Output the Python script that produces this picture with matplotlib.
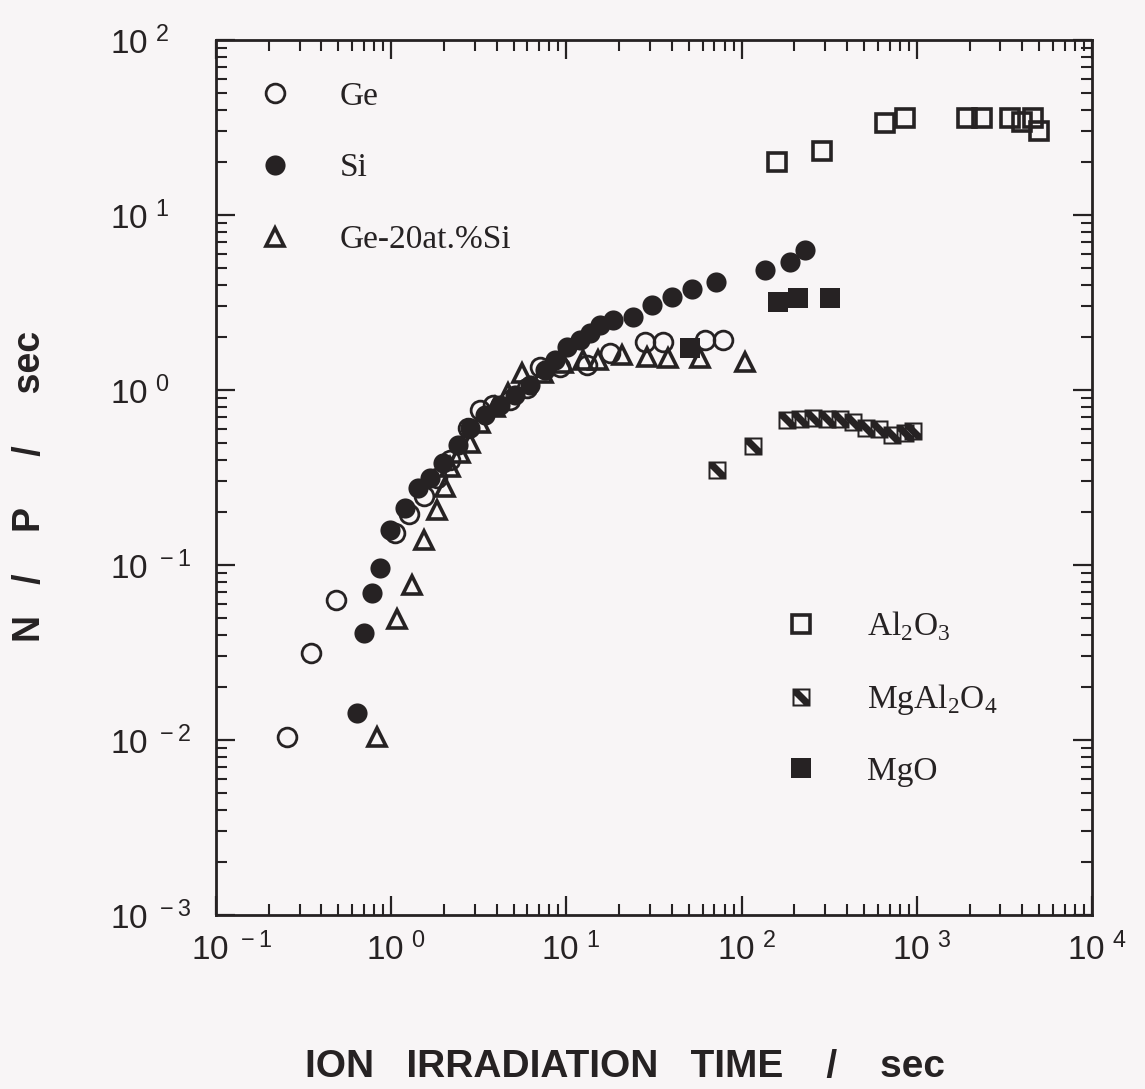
import math
import matplotlib
matplotlib.use("Agg")
import matplotlib.pyplot as plt
from matplotlib.path import Path
from matplotlib.lines import Line2D
from matplotlib.ticker import LogLocator, FuncFormatter, NullFormatter
from matplotlib.transforms import ScaledTranslation

plt.rcParams['mathtext.fontset'] = 'custom'
plt.rcParams['mathtext.rm'] = 'Liberation Serif'
plt.rcParams['mathtext.sf'] = 'Liberation Sans'

INK = '#262223'
BG = '#f8f5f6'

# --- data (time in sec, N/P in 1/sec) ---
ge_x = [0.254, 0.348, 0.484, 1.05, 1.27, 1.54, 1.82, 2.17, 2.74, 3.21, 3.81,
        4.77, 5.96, 7.07, 9.19, 13.1, 17.8, 28.1, 35.6, 61.8, 78.3]
ge_y = [0.0104, 0.0314, 0.063, 0.152, 0.196, 0.248, 0.314, 0.398, 0.607, 0.769,
        0.82, 0.877, 1.03, 1.35, 1.35, 1.39, 1.63, 1.88, 1.88, 1.93, 1.93]

si_x = [0.638, 0.70, 0.776, 0.863, 0.984, 1.20, 1.42, 1.66, 1.98, 2.41, 2.82,
        3.43, 4.18, 5.09, 6.20, 7.55, 8.61, 10.1, 12.0, 13.6, 15.6, 18.5, 24.0,
        30.8, 40.1, 52.1, 71.5, 136, 189, 230]
si_y = [0.0143, 0.041, 0.069, 0.096, 0.158, 0.212, 0.275, 0.314, 0.383, 0.485,
        0.607, 0.72, 0.82, 0.936, 1.07, 1.30, 1.48, 1.76, 1.93, 2.12, 2.35, 2.51,
        2.61, 3.06, 3.40, 3.78, 4.14, 4.85, 5.39, 6.31]

gesi_x = [0.83, 1.08, 1.32, 1.54, 1.82, 2.03, 2.17, 2.47, 2.82, 3.21, 3.91, 4.64,
          5.58, 7.35, 9.57, 12.5, 15.1, 20.8, 28.8, 38.0, 57.9, 104]
gesi_y = [0.0104, 0.049, 0.077, 0.139, 0.206, 0.279, 0.363, 0.436, 0.498, 0.648,
          0.80, 0.962, 1.25, 1.25, 1.43, 1.48, 1.48, 1.58, 1.55, 1.52, 1.52, 1.45]

al2o3_x = [159, 288, 658, 857, 1936, 2356, 3405, 3985, 4600, 4980]
al2o3_y = [20.1, 23.2, 33.6, 35.8, 35.8, 35.8, 35.8, 34.0, 36.0, 30.2]

spinel_x = [72.5, 116, 182, 215, 256, 307, 365, 433, 513, 609, 721, 857, 951]
spinel_y = [0.349, 0.478, 0.67, 0.68, 0.69, 0.68, 0.68, 0.66, 0.61, 0.60, 0.55,
            0.57, 0.58]

mgo_x = [50.7, 161, 210, 320]
mgo_y = [1.74, 3.18, 3.36, 3.36]

# square with a bold falling diagonal (the MgAl2O4 symbol)
verts = [(-1, -1), (1, -1), (1, 1), (-1, 1), (-1, -1),
         (-0.22, 0.72), (0.72, 0.72), (0.72, -0.22), (-0.22, 0.72),
         (0.22, -0.72), (-0.72, -0.72), (-0.72, 0.22), (0.22, -0.72)]
codes = ([Path.MOVETO] + [Path.LINETO] * 3 + [Path.CLOSEPOLY]) + \
        ([Path.MOVETO] + [Path.LINETO] * 2 + [Path.CLOSEPOLY]) * 2
hatched_sq = Path(verts, codes)

fig = plt.figure(figsize=(11.45, 10.89), dpi=100, facecolor=BG)
ax = fig.add_axes([0.1886, 0.1598, 0.7651, 0.8035])
ax.set_facecolor(BG)

ms = 13.5
ax.plot(ge_x, ge_y, 'o', ls='none', ms=ms, mfc='none', mec=INK, mew=2.0, zorder=3)
ax.plot(si_x, si_y, 'o', ls='none', ms=ms + 1, mfc=INK, mec=INK, mew=0, zorder=3)
ax.plot(gesi_x, gesi_y, '^', ls='none', ms=ms - 1, mfc='none', mec=INK, mew=2.6, zorder=4)
ax.plot(al2o3_x, al2o3_y, 's', ls='none', ms=ms, mfc='none', mec=INK, mew=2.6, zorder=3)
ax.plot(spinel_x, spinel_y, marker=hatched_sq, ls='none', ms=ms, mfc=INK, mec='none', zorder=3)
ax.plot(mgo_x, mgo_y, 's', ls='none', ms=ms + 1, mfc=INK, mec=INK, mew=0, zorder=3)

ax.set_xscale('log')
ax.set_yscale('log')
ax.set_xlim(1e-1, 1e4)
ax.set_ylim(1e-3, 1e2)

for a in (ax.xaxis, ax.yaxis):
    a.set_major_locator(LogLocator(base=10, numticks=20))
    a.set_minor_locator(LogLocator(base=10, subs=range(2, 10), numticks=20))
    a.set_minor_formatter(NullFormatter())

fmt = FuncFormatter(lambda v, p: r'$\mathsf{10^{\ %d}}$' % round(math.log10(v)))
ax.xaxis.set_major_formatter(fmt)
ax.yaxis.set_major_formatter(fmt)

ax.tick_params(which='both', direction='in', top=True, right=True, colors=INK,
               labelsize=24, labelcolor=INK)
ax.tick_params(which='major', length=14, width=1.6)
ax.tick_params(which='minor', length=8, width=1.5)
ax.tick_params(axis='y', which='major', pad=76)
ax.tick_params(axis='x', which='major', pad=13)
for s in ax.spines.values():
    s.set_linewidth(2.0)
    s.set_color(INK)

for lab in ax.get_yticklabels():
    lab.set_ha('left')
off = ScaledTranslation(-0.25, 0, fig.dpi_scale_trans)
for lab in ax.get_xticklabels():
    lab.set_ha('left')
    lab.set_transform(lab.get_transform() + off)

ax.set_xlabel('ION   IRRADIATION   TIME    /    sec', fontsize=28, fontweight='bold',
              family='Liberation Sans', color=INK, va='center')
ax.xaxis.set_label_coords(0.467, -0.174)
ax.set_ylabel('N   /    P     /     sec', fontsize=27, fontweight='bold',
              family='Liberation Sans', color=INK, va='center')
ax.yaxis.set_label_coords(-0.212, 0.490)

def mk(**kw):
    return Line2D([], [], ls='none', color=INK, **kw)

h1 = [mk(marker='o', ms=ms, mfc='none', mec=INK, mew=2.0),
      mk(marker='o', ms=ms + 1, mfc=INK, mew=0),
      mk(marker='^', ms=ms - 1, mfc='none', mec=INK, mew=2.6)]
leg1 = ax.legend(h1, ['Ge', 'Si', 'Ge-20at.%Si'], loc='upper left',
                 bbox_to_anchor=(0.029, 0.972), frameon=False, borderpad=0,
                 handlelength=1.0, handletextpad=1.45, labelspacing=1.24, numpoints=1,
                 prop={'family': 'Liberation Serif', 'size': 24})
for t in leg1.get_texts():
    t.set_color(INK)
ax.add_artist(leg1)

h2 = [mk(marker='s', ms=ms, mfc='none', mec=INK, mew=2.6),
      mk(marker=hatched_sq, ms=ms, mfc=INK, mec='none'),
      mk(marker='s', ms=ms + 1, mfc=INK, mew=0)]
leg2 = ax.legend(h2, ['Al$_2$O$_3$', 'MgAl$_2$O$_4$', 'MgO'], loc='upper left',
                 bbox_to_anchor=(0.630, 0.368), frameon=False, borderpad=0,
                 handlelength=1.0, handletextpad=1.47, labelspacing=1.17, numpoints=1,
                 prop={'family': 'Liberation Serif', 'size': 24})
for t in leg2.get_texts():
    t.set_color(INK)

fig.savefig('out.png', dpi=100, facecolor=BG)
